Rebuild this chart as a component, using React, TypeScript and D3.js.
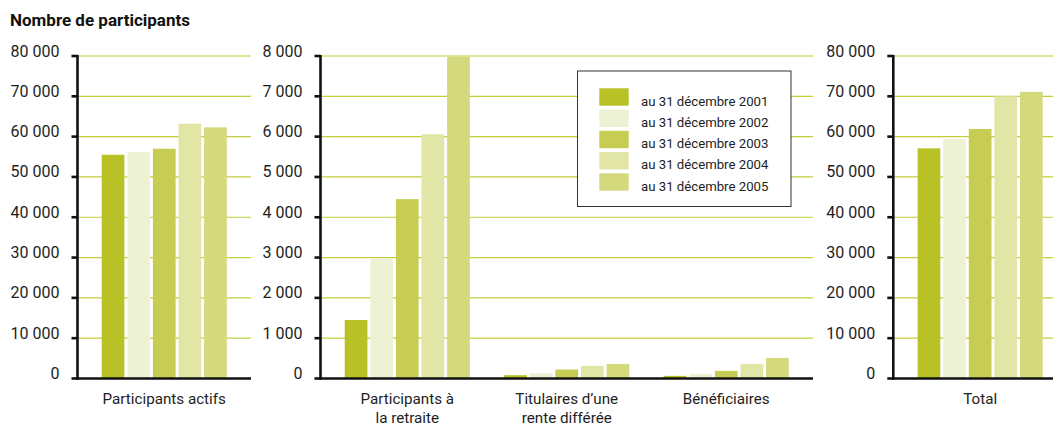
import React from "react";
import * as d3 from "d3";

// Participant counts by category, one value per reporting date
const years = [
  "au 31 décembre 2001",
  "au 31 décembre 2002",
  "au 31 décembre 2003",
  "au 31 décembre 2004",
  "au 31 décembre 2005",
];
const yearColors = ["#b8c227", "#eef2d4", "#c6cd52", "#e1e6a6", "#d4d97d"];

const actifs = [55500, 56200, 57000, 63200, 62300];
const retraite = [1450, 2970, 4450, 6060, 7980];
const titulaires = [82, 131, 223, 313, 362];
const beneficiaires = [65, 114, 189, 362, 511];
const total = [57100, 59400, 61900, 70000, 71100];

const bigTicks = [0, 10000, 20000, 30000, 40000, 50000, 60000, 70000, 80000];
const smallTicks = [0, 1000, 2000, 3000, 4000, 5000, 6000, 7000, 8000];

const title = "Nombre de participants";

type Group = { label: string[]; values: number[] };
type Panel = {
  x0: number; // axis position
  x1: number; // right end of gridlines
  outerPad: number;
  max: number;
  ticks: number[];
  groups: Group[];
};

const panels: Panel[] = [
  {
    x0: 77.5,
    x1: 251,
    outerPad: 0,
    max: 80000,
    ticks: bigTicks,
    groups: [{ label: ["Participants actifs"], values: actifs }],
  },
  {
    x0: 320.5,
    x1: 813,
    outerPad: 0.044,
    max: 8000,
    ticks: smallTicks,
    groups: [
      { label: ["Participants à", "la retraite"], values: retraite },
      { label: ["Titulaires d’une", "rente différée"], values: titulaires },
      { label: ["Bénéficiaires"], values: beneficiaires },
    ],
  },
  {
    x0: 893.3,
    x1: 1067,
    outerPad: 0,
    max: 80000,
    ticks: bigTicks,
    groups: [{ label: ["Total"], values: total }],
  },
];

const W = 1053;
const H = 427;
const yTop = 56;
const yBase = 378.5;
const font = "Roboto, 'Open Sans', sans-serif";
const gridColor = "#c3cd3a";
const axisColor = "#111";

const fmt = d3.formatLocale({
  decimal: ",",
  thousands: " ",
  grouping: [3],
  currency: ["", " €"],
}).format(",d");

function PanelView({ p }: { p: Panel }) {
  const y = d3.scaleLinear().domain([0, p.max]).range([yBase, yTop]);
  const outer = d3
    .scaleBand<number>()
    .domain(d3.range(p.groups.length))
    .range([p.x0, p.x1])
    .paddingInner(0)
    .paddingOuter(p.outerPad);
  const groupWidth = 125.1;
  return (
    <g>
      {p.ticks.slice(1).map((t) => (
        <line
          key={"g" + t}
          x1={p.x0}
          x2={p.x1}
          y1={y(t)}
          y2={y(t)}
          stroke={gridColor}
          strokeWidth={1.2}
        />
      ))}
      {p.groups.map((g, gi) => {
        const c = (outer(gi) as number) + outer.bandwidth() / 2;
        const inner = d3
          .scaleBand<number>()
          .domain(d3.range(g.values.length))
          .range([c - groupWidth / 2, c + groupWidth / 2])
          .paddingInner(0.113)
          .paddingOuter(0);
        return (
          <g key={gi}>
            {g.values.map((v, i) => (
              <rect
                key={i}
                x={inner(i)}
                y={y(v)}
                width={inner.bandwidth()}
                height={yBase - y(v)}
                fill={yearColors[i]}
              />
            ))}
            <text
              x={c}
              y={404}
              textAnchor="middle"
              fontFamily={font}
              fontSize={15.2}
              fill="#1e1e1e"
            >
              {g.label.map((l, li) => (
                <tspan key={li} x={c} dy={li === 0 ? 0 : 18.5}>
                  {l}
                </tspan>
              ))}
            </text>
          </g>
        );
      })}
      {/* vertical axis with ticks and labels */}
      <line x1={p.x0} x2={p.x0} y1={yTop - 1} y2={yBase + 1.2} stroke={axisColor} strokeWidth={2.6} />
      {p.ticks.map((t) => (
        <g key={"t" + t}>
          <line x1={p.x0 - 6} x2={p.x0} y1={y(t)} y2={y(t)} stroke={axisColor} strokeWidth={2.6} />
          <text
            x={p.x0 - 18}
            y={y(t) + 0.5}
            textAnchor="end"
            fontFamily={font}
            fontSize={16}
            fill="#1e1e1e"
          >
            {fmt(t)}
          </text>
        </g>
      ))}
      <line x1={p.x0 - 1.3} x2={p.x1} y1={yBase} y2={yBase} stroke={axisColor} strokeWidth={2.6} />
    </g>
  );
}

function Legend() {
  const x = 577.5;
  const yy = 71;
  const step = 21.25;
  return (
    <g>
      <rect x={x} y={yy} width={213.5} height={135.5} fill="#fff" stroke="#333" strokeWidth={1} />
      {years.map((label, i) => (
        <g key={label}>
          <rect x={599.3} y={88.3 + i * step} width={29.4} height={17.4} fill={yearColors[i]} />
          <text x={641} y={105.5 + i * step} fontFamily={font} fontSize={13.2} fill="#1e1e1e">
            {label}
          </text>
        </g>
      ))}
    </g>
  );
}

export default function App() {
  return (
    <svg
      width={W}
      height={H}
      viewBox={`0 0 ${W} ${H}`}
      style={{ position: "absolute", left: 0, top: 0, background: "#fff" }}
    >
      <rect width={W} height={H} fill="#fff" />
      <text x={10} y={26} fontFamily={font} fontWeight="bold" fontSize={17} fill="#111">
        {title}
      </text>
      {panels.map((p, i) => (
        <PanelView key={i} p={p} />
      ))}
      <Legend />
    </svg>
  );
}
